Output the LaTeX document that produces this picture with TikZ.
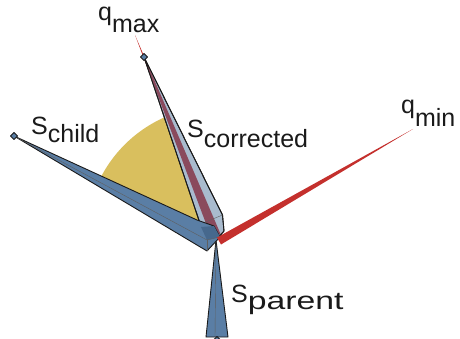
\documentclass[tikz,border=0pt]{standalone}
\usepackage{fontspec}
\setmainfont{Liberation Sans}
\usetikzlibrary{calc}
\definecolor{ink}{HTML}{1A1A1A}
\definecolor{bone}{HTML}{5A7EA5}
\definecolor{boneshade}{HTML}{46688D}
\definecolor{ghost}{HTML}{A9BBCE}
\definecolor{limit}{HTML}{C4302D}
\definecolor{limitin}{HTML}{8A4A5D}
\definecolor{swing}{HTML}{D9BF5E}
\tikzset{
  outline/.style={draw=ink, line width=0.9pt, line join=round},
  bonefill/.style={outline, fill=bone},
  ghostfill/.style={outline, fill=ghost},
  ridge/.style={draw=ink!70, line width=0.4pt},
  tipmark/.style={draw=ink, line width=0.8pt, fill=bone, line join=round},
  lbl/.style={font=\fontsize{25}{28}\selectfont, text=ink, inner sep=0pt, anchor=base west},
}
\newcommand{\sublbl}[3][9pt]{#2\raisebox{-#1}{#3}}
\newcommand{\tipdiamond}[1]{\draw[tipmark] ($(#1)+(-3.5,0)$) -- ($(#1)+(0,-3.5)$) -- ($(#1)+(3.5,0)$) -- ($(#1)+(0,3.5)$) -- cycle;}

\begin{document}
\begin{tikzpicture}[x=1pt, y=-1pt]
\useasboundingbox (0,0) rectangle (460,339);

\coordinate (joint) at (218,238);
\coordinate (childtip) at (14,136);
\coordinate (corrtip) at (144,57);
\coordinate (qmaxtip) at (135,35);
\coordinate (qmintip) at (413,129);
\coordinate (parentend) at (217,340);

% swing range
\fill[swing] (joint) -- ++(-112:132) arc[start angle=-112, end angle=-154, radius=132] -- cycle;

% parent bone
\draw[bonefill] (216,240) -- (228,337) -- (206,337) -- cycle;
\draw[ridge] (216,240) -- (215,337);
\tipdiamond{parentend}

% q_max limit
\fill[limit] (220.6,234.1) -- (qmaxtip) -- (211.4,237.9) -- cycle;

% corrected bone
\draw[ghostfill] (corrtip) -- (222.5,215) -- (224,231) -- (joint) -- (200.3,224.2) -- cycle;
\begin{scope}
  \clip (corrtip) -- (222.5,215) -- (224,231) -- (joint) -- (200.3,224.2) -- cycle;
  \fill[limitin] (220.6,234.1) -- (qmaxtip) -- (211.4,237.9) -- cycle;
\end{scope}
\draw[outline, fill=none] (corrtip) -- (222.5,215) -- (224,231) -- (joint) -- (200.3,224.2) -- cycle;
\draw[ridge] (200.3,224.2) -- (222.5,215);

% child bone
\draw[bonefill] (childtip) -- (197,220) -- (214,226) -- (220,237) -- (207,251) -- cycle;
\fill[boneshade] (201,227) -- (214,226) -- (220,237) -- (207,240) -- cycle;
\draw[ridge] (childtip) -- (207,240) -- (220,237);
\draw[ridge] (207,240) -- (207,251);

% q_min limit
\fill[limit] (217,237.5) -- (qmintip) -- (221,244.5) -- cycle;

% end markers
\tipdiamond{childtip}
\tipdiamond{corrtip}

% labels
\node[lbl] (qmaxlbl) at (98,21) {\sublbl[12pt]{q}{max}};
\node[lbl] (qminlbl) at (401,114) {\sublbl[13pt]{q}{min}};
\node[lbl] (childlbl) at (31,135) {\sublbl[8pt]{S}{child}};
\node[lbl] (corrlbl) at (187,138) {\sublbl[10pt]{S}{corrected}};
\node[lbl] (parentlbl) at (231,302) {\sublbl[7pt]{S}{\scalebox{1.35}[1]{parent}}};

\end{tikzpicture}
\end{document}
